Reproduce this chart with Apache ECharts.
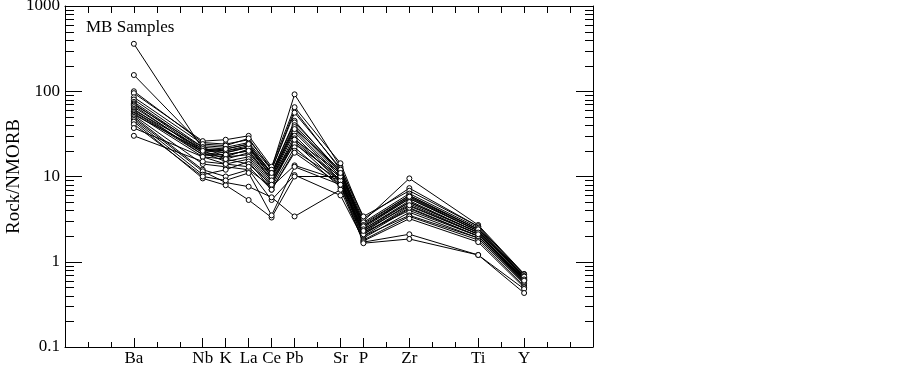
<!DOCTYPE html>
<html>
<head>
<meta charset="utf-8">
<script src="https://cdn.jsdelivr.net/npm/echarts@6/dist/echarts.min.js"></script>
<style>
html,body{margin:0;padding:0;background:#fff;}
#chart{width:902px;height:368px;}
</style>
</head>
<body>
<div id="chart"></div>
<script>
// Tick-label slots along the x axis (unlabelled slots are blank)
const xSlots = ['', '', '', 'Ba', '', '', 'Nb', 'K', 'La', 'Ce', 'Pb', '', 'Sr', 'P', '', 'Zr', '', '', 'Ti', '', 'Y', '', '', ''];
// Elements that carry data
const categories = ['Ba', 'Nb', 'K', 'La', 'Ce', 'Pb', 'Sr', 'P', 'Zr', 'Ti', 'Y'];
// y tick decades
const yDecades = [0.1, 1, 10, 100];
const minorMult = [2, 3, 4, 5, 6, 7, 8, 9];

// Rock/NMORB values per sample, in the order of `categories`
const s01 = [360, 21, 19, 22, 11, 45, 11, 2.6, 5.5, 2.3, 0.65];
const s02 = [155, 23, 22, 25, 12, 60, 12, 2.8, 6.0, 2.4, 0.68];
const s03 = [100, 25, 24, 27, 12.5, 92, 13, 3.0, 9.5, 2.7, 0.72];
const s04 = [95, 26, 27, 30, 13, 65, 14.3, 3.2, 7.3, 2.6, 0.70];
const s05 = [85, 24, 23, 28, 12, 56, 12.5, 3.4, 6.8, 2.6, 0.71];
const s06 = [80, 22, 21, 24, 11, 43, 11.5, 2.9, 6.3, 2.5, 0.68];
const s07 = [75, 21, 20, 23, 10.5, 40, 11, 2.7, 6.0, 2.4, 0.66];
const s08 = [72, 20, 19, 22, 10, 38, 10.5, 2.6, 5.7, 2.3, 0.64];
const s09 = [70, 22, 17, 21, 10, 35, 10, 2.5, 5.5, 2.3, 0.66];
const s10 = [68, 19, 18, 20, 9.5, 33, 9.5, 2.4, 5.2, 2.2, 0.62];
const s11 = [65, 20, 16, 19, 9, 30, 9, 2.3, 5.0, 2.2, 0.60];
const s12 = [62, 18, 17, 18, 8.5, 28, 8.5, 2.2, 4.8, 2.1, 0.61];
const s13 = [60, 21, 20, 22, 10, 26, 9, 2.1, 4.5, 2.1, 0.63];
const s14 = [58, 19, 15, 17, 8, 25, 8, 2.0, 4.2, 2.0, 0.58];
const s15 = [57, 18, 18, 20, 9, 24, 10, 2.2, 4.0, 2.0, 0.60];
const s16 = [55, 17, 14, 16, 7.5, 22, 7.5, 1.9, 3.8, 1.9, 0.56];
const s17 = [53, 20, 21, 24, 11, 36, 12, 2.6, 5.8, 2.4, 0.67];
const s18 = [52, 14, 13, 12, 7.6, 13.5, 9, 2.0, 3.5, 1.9, 0.55];
const s19 = [50, 12, 10, 12, 5.3, 10.4, 6.0, 1.8, 3.4, 1.8, 0.52];
const s20 = [48, 11.5, 8.5, 7.6, 5.7, 3.4, 7, 1.75, 3.2, 1.7, 0.50];
const s21 = [46, 10.5, 12, 15, 7, 20, 9, 2.1, 4.3, 2.0, 0.58];
const s22 = [44, 9.5, 7.9, 5.3, 3.3, 10, 10, 1.7, 2.1, 1.2, 0.48];
const s23 = [41, 10, 9, 11, 3.5, 13, 8, 1.65, 1.85, 1.2, 0.43];
const s24 = [37, 17, 16, 14, 8, 27, 11, 2.4, 5.0, 2.2, 0.62];
const s25 = [30, 15, 14, 13, 7, 19, 8, 2.3, 4.6, 2.1, 0.60];
const samples = [s01, s02, s03, s04, s05, s06, s07, s08, s09, s10, s11, s12, s13,
                 s14, s15, s16, s17, s18, s19, s20, s21, s22, s23, s24, s25];

const FONT = "'Liberation Serif', 'Times New Roman', serif";
const lastSlot = xSlots.length - 1;

const sampleSeries = samples.map((vals, i) => ({
  type: 'line',
  name: 'S' + (i + 1),
  xAxisIndex: 0,
  yAxisIndex: 0,
  data: categories.map((c, k) => [xSlots.indexOf(c), vals[k]]),
  symbol: 'circle',
  symbolSize: 5,
  showSymbol: true,
  lineStyle: { color: '#000', width: 1 },
  itemStyle: { color: '#fff', borderColor: '#000', borderWidth: 1 },
  emphasis: { disabled: true },
  silent: true,
  z: 3
}));

const minorTicks = [];
yDecades.forEach(d => minorMult.forEach(m => minorTicks.push([0, +(d * m).toPrecision(3)])));

const minorTickSeries = {
  type: 'custom',
  xAxisIndex: 0,
  yAxisIndex: 0,
  silent: true,
  z: 2,
  data: minorTicks,
  renderItem: function (params, api) {
    const v = api.value(1);
    const pL = api.coord([0, v]);
    const pR = api.coord([lastSlot, v]);
    const y = Math.round(pL[1]) + 0.5;
    return {
      type: 'group',
      children: [
        { type: 'line', shape: { x1: pL[0], y1: y, x2: pL[0] + 9, y2: y }, style: { stroke: '#000', lineWidth: 1 } },
        { type: 'line', shape: { x1: pR[0] - 8, y1: y, x2: pR[0], y2: y }, style: { stroke: '#000', lineWidth: 1 } }
      ]
    };
  }
};

const chart = echarts.init(document.getElementById('chart'), null, { renderer: 'canvas' });
chart.setOption({
  animation: false,
  backgroundColor: '#fff',
  textStyle: { fontFamily: FONT, color: '#000' },
  title: {
    text: 'MB Samples',
    left: 81,
    top: 14,
    textStyle: { fontFamily: FONT, fontSize: 17, fontWeight: 'normal', color: '#000' }
  },
  grid: { left: 65, right: 309, top: 6, bottom: 21, containLabel: false, outerBoundsMode: 'none' },
  xAxis: [
    {
      type: 'category',
      data: xSlots,
      boundaryGap: false,
      position: 'bottom',
      axisLine: { show: true, lineStyle: { color: '#000', width: 1 } },
      axisTick: { show: true, inside: true, length: 9, lineStyle: { color: '#000' },
                  interval: function (i, v) { return v !== ''; } },
      axisLabel: { show: true, interval: function (i, v) { return v !== ''; },
                   fontFamily: FONT, fontSize: 17, color: '#000', margin: 3 },
      splitLine: { show: false }
    },
    {
      type: 'category',
      data: xSlots,
      boundaryGap: false,
      position: 'bottom',
      axisLine: { show: false },
      axisTick: { show: true, inside: true, length: 5, interval: 0, lineStyle: { color: '#000' } },
      axisLabel: { show: false },
      splitLine: { show: false }
    },
    {
      type: 'category',
      data: xSlots,
      boundaryGap: false,
      position: 'top',
      axisLine: { show: true, lineStyle: { color: '#000', width: 1 } },
      axisTick: { show: true, inside: true, length: 7, interval: 0, lineStyle: { color: '#000' } },
      axisLabel: { show: false },
      splitLine: { show: false }
    }
  ],
  yAxis: [
    {
      type: 'log',
      logBase: 10,
      min: 0.1,
      max: 1000,
      position: 'left',
      name: 'Rock/NMORB',
      nameLocation: 'middle',
      nameGap: 41,
      nameMoveOverlap: false,
      nameRotate: 90,
      nameTextStyle: { fontFamily: FONT, fontSize: 19, color: '#000' },
      axisLine: { show: true, lineStyle: { color: '#000', width: 1 } },
      axisTick: { show: true, inside: true, length: 17, lineStyle: { color: '#000' } },
      axisLabel: { fontFamily: FONT, fontSize: 17, color: '#000', margin: 5,
                   formatter: function (v) { return String(v); } },
      splitLine: { show: false }
    },
    {
      type: 'log',
      logBase: 10,
      min: 0.1,
      max: 1000,
      position: 'right',
      axisLine: { show: true, lineStyle: { color: '#000', width: 1 } },
      axisTick: { show: true, inside: true, length: 17, lineStyle: { color: '#000' } },
      axisLabel: { show: false },
      splitLine: { show: false }
    }
  ],
  series: [minorTickSeries].concat(sampleSeries)
});
</script>
</body>
</html>
